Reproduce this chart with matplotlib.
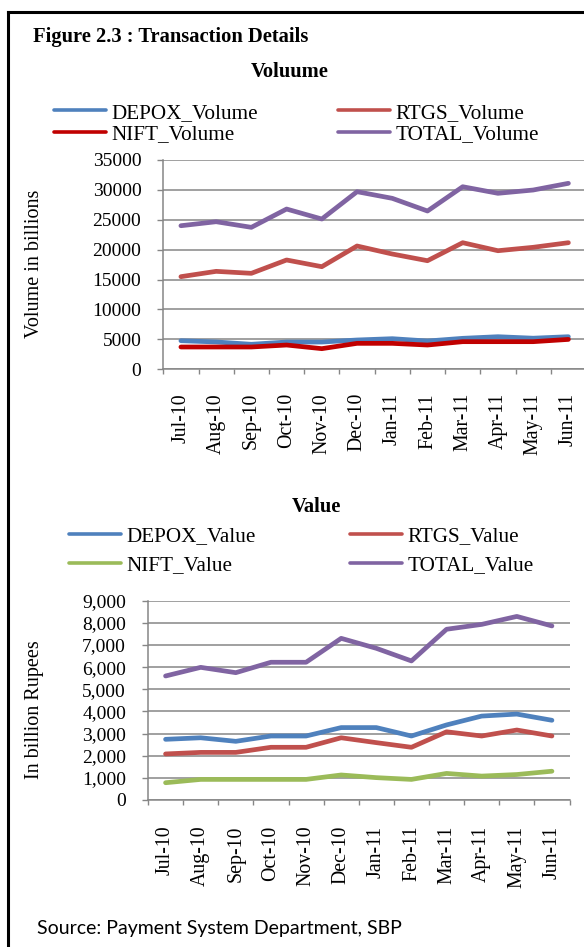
import matplotlib.pyplot as plt
from matplotlib.lines import Line2D
from matplotlib.ticker import FuncFormatter

plt.rcParams['font.family'] = ['Liberation Serif', 'DejaVu Serif']

months = ["Jul-10", "Aug-10", "Sep-10", "Oct-10", "Nov-10", "Dec-10",
          "Jan-11", "Feb-11", "Mar-11", "Apr-11", "May-11", "Jun-11"]

# volume panel
depox_volume = [4780, 4570, 4180, 4560, 4560, 4900, 5120, 4730, 5180, 5450, 5200, 5450]
rtgs_volume = [15490, 16380, 16050, 18280, 17160, 20620, 19280, 18160, 21170, 19830, 20400, 21170]
nift_volume = [3730, 3730, 3730, 4060, 3450, 4340, 4340, 4060, 4620, 4620, 4620, 5000]
total_volume = [24010, 24680, 23740, 26800, 25130, 29700, 28590, 26470, 30530, 29430, 29980, 31100]

# value panel
depox_value = [2740, 2810, 2650, 2890, 2890, 3270, 3270, 2890, 3390, 3790, 3880, 3600]
rtgs_value = [2080, 2150, 2150, 2380, 2380, 2810, 2590, 2380, 3080, 2890, 3160, 2890]
nift_value = [780, 930, 930, 930, 930, 1130, 1010, 930, 1200, 1080, 1150, 1300]
total_value = [5600, 5990, 5750, 6220, 6220, 7300, 6850, 6280, 7710, 7930, 8290, 7860]

BLUE = "#4F81BD"
RED = "#C0504D"
DARKRED = "#C00000"
GREEN = "#9BBB59"
PURPLE = "#8064A2"
GRID = "#868686"

W, H = 584, 947
fig = plt.figure(figsize=(W / 100, H / 100), dpi=100)


def fx(px):
    return px / W


def fy(py):
    return 1 - py / H


def style_axes(ax, ymax, ystep, label_pad):
    x = list(range(len(months)))
    ax.set_xlim(-0.5, len(months) - 0.5)
    ax.set_ylim(0, ymax)
    ax.set_yticks(range(0, ymax + 1, ystep))
    ax.set_xticks([i - 0.5 for i in range(len(months) + 1)])
    ax.set_xticklabels([])
    ax.set_xticks(x, months, minor=True, rotation=90)
    ax.tick_params(axis='x', which='major', length=3.6, color=GRID, width=1)
    ax.tick_params(axis='x', which='minor', length=0, pad=label_pad, labelsize=14.3)
    ax.tick_params(axis='y', length=4.3, color=GRID, width=1, pad=11.5, labelsize=14)
    ax.grid(axis='y', color=GRID, linewidth=1.1)
    ax.set_axisbelow(True)
    for s in ('top', 'right'):
        ax.spines[s].set_visible(False)
    for s in ('left', 'bottom'):
        ax.spines[s].set_color(GRID)
        ax.spines[s].set_linewidth(1.1)


def add_legend(handles, labels, x, y, spacing):
    leg = fig.legend(handles, labels, loc='center left', bbox_to_anchor=(fx(x), fy(y)),
                     frameon=False, fontsize=15.2, handlelength=2.46, handletextpad=0.27,
                     borderpad=0, borderaxespad=0, labelspacing=spacing)
    for line in leg.get_lines():
        line.set_linewidth(2.6)
    return leg


lw = 3.4
x = list(range(len(months)))

# top panel: volume
ax1 = fig.add_axes([fx(163.3), fy(369.3), fx(586) - fx(163.3), fy(160) - fy(369.3)])
style_axes(ax1, 35000, 5000, 17)
l1, = ax1.plot(x, depox_volume, color=BLUE, lw=lw, solid_capstyle='round', solid_joinstyle='round')
l2, = ax1.plot(x, rtgs_volume, color=RED, lw=lw, solid_capstyle='round', solid_joinstyle='round')
l3, = ax1.plot(x, nift_volume, color=DARKRED, lw=lw, solid_capstyle='round', solid_joinstyle='round')
l4, = ax1.plot(x, total_volume, color=PURPLE, lw=lw, solid_capstyle='round', solid_joinstyle='round')

add_legend([l1, l3], ["DEPOX_Volume", "NIFT_Volume"], 54, 123.7, 0.1)
add_legend([l2, l4], ["RTGS_Volume", "TOTAL_Volume"], 338, 123.7, 0.1)

# bottom panel: value
ax2 = fig.add_axes([fx(148), fy(800), fx(569.5) - fx(148), fy(600.7) - fy(800)])
style_axes(ax2, 9000, 1000, 18.5)
ax2.yaxis.set_major_formatter(FuncFormatter(lambda v, p: f"{v:,.0f}"))
m1, = ax2.plot(x, depox_value, color=BLUE, lw=lw, solid_capstyle='round', solid_joinstyle='round')
m2, = ax2.plot(x, rtgs_value, color=RED, lw=lw, solid_capstyle='round', solid_joinstyle='round')
m3, = ax2.plot(x, nift_value, color=GREEN, lw=lw, solid_capstyle='round', solid_joinstyle='round')
m4, = ax2.plot(x, total_value, color=PURPLE, lw=lw, solid_capstyle='round', solid_joinstyle='round')

add_legend([m1, m3], ["DEPOX_Value", "NIFT_Value"], 69, 550.8, 0.42)
add_legend([m2, m4], ["RTGS_Value", "TOTAL_Value"], 350, 550.8, 0.42)

# titles and labels
fig.text(fx(33), fy(37), "Figure 2.3 : Transaction Details", fontsize=14.8,
         fontweight='bold', va='center', ha='left')
fig.text(fx(290), fy(71.7), "Voluume", fontsize=14.8, fontweight='bold', va='center', ha='center')
fig.text(fx(316.6), fy(506.7), "Value", fontsize=14.8, fontweight='bold', va='center', ha='center')
fig.text(fx(35), fy(264), "Volume in billions", fontsize=14.5, rotation=90, va='center', ha='center')
fig.text(fx(35), fy(710), "In billion Rupees", fontsize=14.5, rotation=90, va='center', ha='center')
fig.text(fx(37), fy(928), "Source: Payment System Department, SBP", fontsize=14,
         family=['Lato', 'DejaVu Sans'], va='center', ha='left')

# frame around the figure (cut off at right and bottom)
fig.add_artist(Line2D([fx(8), fx(8)], [fy(12), -0.1], color='black', lw=2.2))
fig.add_artist(Line2D([fx(8), 1.1], [fy(12), fy(12)], color='black', lw=2.2))

fig.savefig("out.png", dpi=100)
